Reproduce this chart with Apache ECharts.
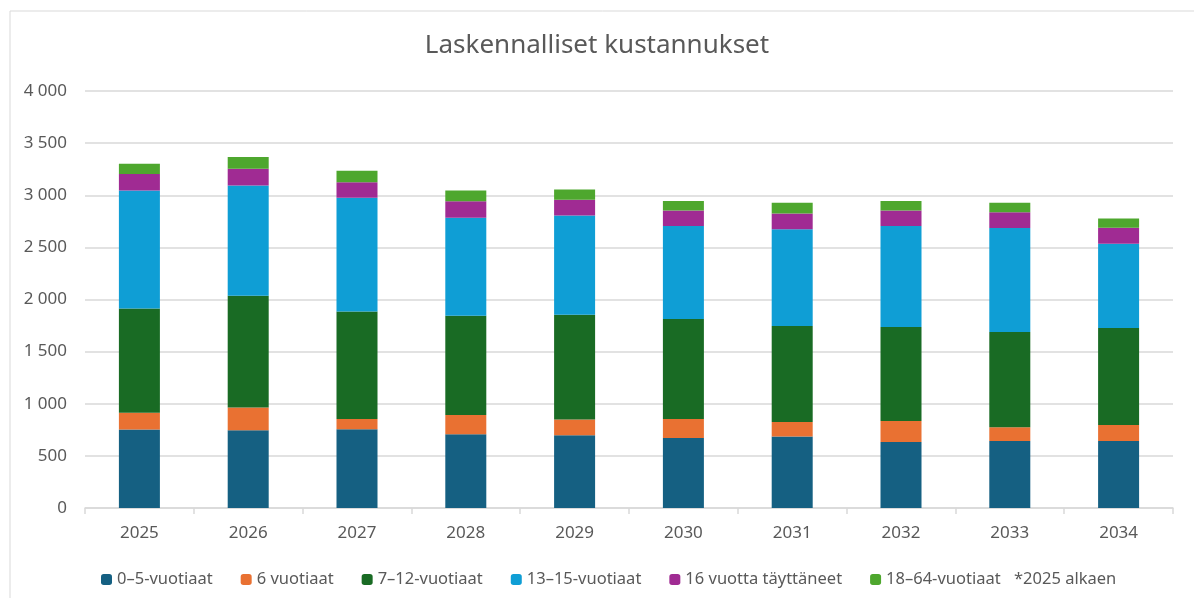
<!DOCTYPE html>
<html>
<head>
<meta charset="utf-8">
<script src="https://cdn.jsdelivr.net/npm/echarts@6/dist/echarts.min.js"></script>
<style>
html,body{margin:0;padding:0;background:#fff}
#main{width:1194px;height:598px}
</style>
</head>
<body>
<div id="main"></div>
<script>
var years = ['2025','2026','2027','2028','2029','2030','2031','2032','2033','2034'];
var names = ['0–5-vuotiaat','6 vuotiaat','7–12-vuotiaat','13–15-vuotiaat','16 vuotta täyttäneet','18–64-vuotiaat'];
var colors = ['#156082','#E97132','#196B24','#0F9ED5','#A02B93','#4EA72E'];
var note = '*2025 alkaen';
// values
var age0_5   = [752, 745, 755, 707, 697, 672, 685, 634, 643, 643];
var age6     = [162, 220,  99, 185, 153, 182, 140, 200, 131, 153];
var age7_12  = [1000,1070,1031, 952,1004, 958, 920, 902, 914, 930];
var age13_15 = [1131,1058,1090, 940, 952, 892, 930, 968, 997, 809];
var age16    = [159, 162, 149, 159, 150, 150, 150, 150, 153, 153];
var age18_64 = [ 99, 111, 112, 102,  98,  92, 102,  92,  89,  89];
var yTicks = [0, 500, 1000, 1500, 2000, 2500, 3000, 3500, 4000];

var seriesData = [age0_5, age6, age7_12, age13_15, age16, age18_64];
var font = '"Noto Sans", "Liberation Sans", sans-serif';

var series = [];
for (var i = 0; i < names.length; i++) {
    series.push({
        name: names[i],
        type: 'bar',
        stack: 'total',
        barWidth: 41,
        itemStyle: {color: colors[i]},
        data: seriesData[i]
    });
}

var myChart = echarts.init(document.getElementById('main'));
var option = {
    animation: false,
    backgroundColor: '#fff',
    textStyle: {fontFamily: font},
    graphic: [{
        type: 'rect',
        shape: {x: 10, y: 11, width: 1200, height: 600},
        style: {fill: 'none', stroke: '#d9d9d9', lineWidth: 1},
        silent: true
    }, {
        type: 'text',
        x: 1014,
        y: 579,
        style: {text: note, fill: '#595959', font: '16.5px ' + font, verticalAlign: 'middle'},
        silent: true
    }],
    title: {
        text: 'Laskennalliset kustannukset',
        left: 'center',
        top: 28,
        textStyle: {fontFamily: font, fontSize: 26, fontWeight: 'normal', color: '#595959'}
    },
    legend: {
        data: names,
        bottom: 5,
        left: 96,
        itemWidth: 11,
        itemHeight: 11,
        itemGap: 28,
        selectedMode: false,
        textStyle: {fontFamily: font, fontSize: 16.5, color: '#595959'}
    },
    grid: {left: 85, right: 21, top: 91, bottom: 90},
    xAxis: {
        type: 'category',
        data: years,
        axisLine: {lineStyle: {color: '#d9d9d9', width: 1.5}},
        axisTick: {show: true, length: 6, lineStyle: {color: '#d9d9d9', width: 1.5}},
        axisLabel: {fontFamily: font, fontSize: 17, color: '#595959', margin: 17}
    },
    yAxis: {
        type: 'value',
        min: yTicks[0],
        max: yTicks[yTicks.length - 1],
        interval: 500,
        axisLine: {show: false},
        axisTick: {show: false},
        splitLine: {lineStyle: {color: '#d9d9d9', width: 1.5}},
        axisLabel: {
            fontFamily: font, fontSize: 17, color: '#595959', margin: 18,
            formatter: function (v) { return String(v).replace(/\B(?=(\d{3})+(?!\d))/g, ' '); }
        }
    },
    series: series
};
myChart.setOption(option);
</script>
</body>
</html>
